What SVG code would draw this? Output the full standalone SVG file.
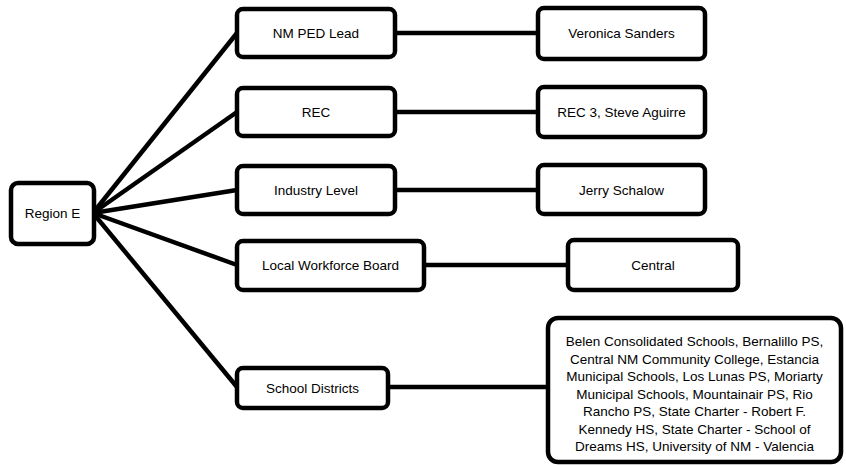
<svg xmlns="http://www.w3.org/2000/svg" width="846" height="465" viewBox="0 0 846 465">
<style>
.box{fill:#fff;stroke:#000;stroke-width:4.5;}
.t{font-family:"Liberation Sans",Arial,sans-serif;font-size:13.5px;fill:#000;text-anchor:middle;}
.c line{stroke:#000;stroke-width:4.5;}
</style>
<rect width="846" height="465" fill="#fff"/>
<g class="c" id="connectors">
<line x1="93" y1="213" x2="237" y2="33"/>
<line x1="93" y1="213" x2="237" y2="112"/>
<line x1="93" y1="213" x2="237" y2="190"/>
<line x1="93" y1="213" x2="237" y2="265"/>
<line x1="93" y1="213" x2="237" y2="387"/>
<line x1="395" y1="33" x2="538" y2="33"/>
<line x1="395" y1="112" x2="538" y2="112"/>
<line x1="395" y1="190" x2="538" y2="190"/>
<line x1="424" y1="265" x2="568" y2="265"/>
<line x1="388" y1="387" x2="548" y2="387"/>
</g>
<g id="regionE"><rect class="box" x="11" y="183" width="83" height="61" rx="7"/><text class="t" x="52.5" y="218">Region E</text></g>
<g id="nmped"><rect class="box" x="237" y="9" width="158" height="48" rx="6"/><text class="t" x="316" y="38">NM PED Lead</text></g>
<g id="veronica"><rect class="box" x="538" y="8" width="167" height="51" rx="6"/><text class="t" x="621.5" y="38">Veronica Sanders</text></g>
<g id="rec"><rect class="box" x="237" y="88" width="158" height="48" rx="6"/><text class="t" x="316" y="117">REC</text></g>
<g id="rec3"><rect class="box" x="538" y="87" width="167" height="50" rx="6"/><text class="t" x="621.5" y="117">REC 3, Steve Aguirre</text></g>
<g id="industry"><rect class="box" x="237" y="166" width="158" height="48" rx="6"/><text class="t" x="316" y="195">Industry Level</text></g>
<g id="jerry"><rect class="box" x="538" y="165" width="167" height="49" rx="6"/><text class="t" x="621.5" y="195">Jerry Schalow</text></g>
<g id="lwb"><rect class="box" x="237" y="241" width="187" height="49" rx="6"/><text class="t" x="330.5" y="270">Local Workforce Board</text></g>
<g id="central"><rect class="box" x="568" y="240" width="170" height="50" rx="6"/><text class="t" x="653" y="270">Central</text></g>
<g id="schools"><rect class="box" x="237" y="368" width="151" height="40" rx="6"/><text class="t" x="312.5" y="393">School Districts</text></g>
<g id="districts"><rect class="box" x="548" y="318" width="293" height="144" rx="10"/>
<text class="t" x="694.5" y="346">Belen Consolidated Schools, Bernalillo PS,</text>
<text class="t" x="694.5" y="363.5">Central NM Community College, Estancia</text>
<text class="t" x="694.5" y="381">Municipal Schools, Los Lunas PS, Moriarty</text>
<text class="t" x="694.5" y="398.5">Municipal Schools, Mountainair PS, Rio</text>
<text class="t" x="694.5" y="416">Rancho PS, State Charter - Robert F.</text>
<text class="t" x="694.5" y="433.5">Kennedy HS, State Charter - School of</text>
<text class="t" x="694.5" y="451">Dreams HS, University of NM - Valencia</text>
</g>
</svg>
